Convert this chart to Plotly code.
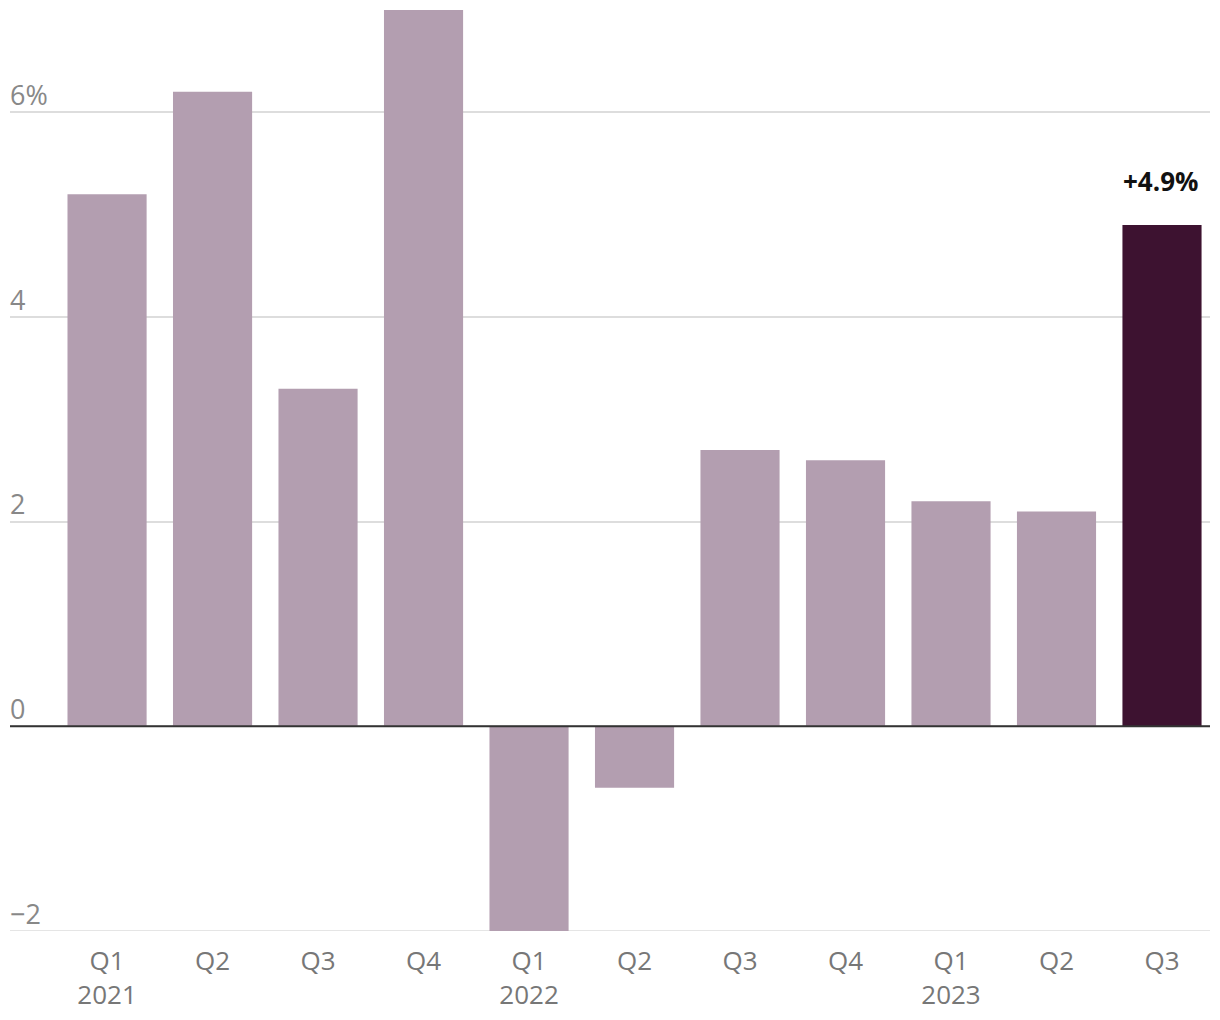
import plotly.graph_objects as go

quarters = ["Q1", "Q2", "Q3", "Q4", "Q1", "Q2", "Q3", "Q4", "Q1", "Q2", "Q3"]
years = ["2021", "", "", "", "2022", "", "", "", "2023", "", ""]
values = [5.2, 6.2, 3.3, 7.0, -2.0, -0.6, 2.7, 2.6, 2.2, 2.1, 4.9]
y_tickvals = [-2, 0, 2, 4, 6]
y_ticktext = ["\u22122", "0", "2", "4", "6%"]
highlight_label = "+4.9%"

LIGHT = "#b39eb0"
DARK = "#3d1230"
FONT = "Open Sans"

xs = list(range(len(values)))
colors = [LIGHT] * (len(values) - 1) + [DARK]
ticktext = [q + ("<br>" + y if y else "<br> ") for q, y in zip(quarters, years)]

fig = go.Figure()
fig.add_trace(go.Bar(x=xs, y=values, marker=dict(color=colors, line=dict(width=0)),
                     width=0.75, hoverinfo="skip"))

fig.add_hline(y=0, line=dict(color="#333333", width=2), layer="above")
fig.add_hline(y=-2, line=dict(color="#dddddd", width=1.5), layer="below")

annotations = []
for v, t in zip(y_tickvals, y_ticktext):
    annotations.append(dict(x=0, xref="paper", y=v, yref="y", text=t, showarrow=False,
                            xanchor="left", yanchor="middle", yshift=18, xshift=-2,
                            font=dict(family=FONT, size=27, color="#888888")))
annotations.append(dict(x=xs[-1], y=values[-1], text="<b>" + highlight_label + "</b>",
                        showarrow=False, yanchor="middle", yshift=44, xshift=-2,
                        font=dict(family=FONT, size=26, color="#111111")))

fig.update_layout(
    width=1204, height=1006,
    margin=dict(l=2, r=2, t=2, b=83),
    plot_bgcolor="white", paper_bgcolor="white",
    showlegend=False,
    annotations=annotations,
    xaxis=dict(range=[-0.92, 10.455], tickvals=xs, ticktext=ticktext, showgrid=False,
               zeroline=False, ticks="", showline=False, ticklabelstandoff=12,
               automargin=False,
               tickfont=dict(family=FONT, size=26, color="#777777")),
    yaxis=dict(range=[-2, 7], tickvals=y_tickvals, showticklabels=False, showgrid=True,
               gridcolor="#dddddd", gridwidth=1.5, zeroline=False, showline=False,
               automargin=False),
)

fig.write_html("out.html")
